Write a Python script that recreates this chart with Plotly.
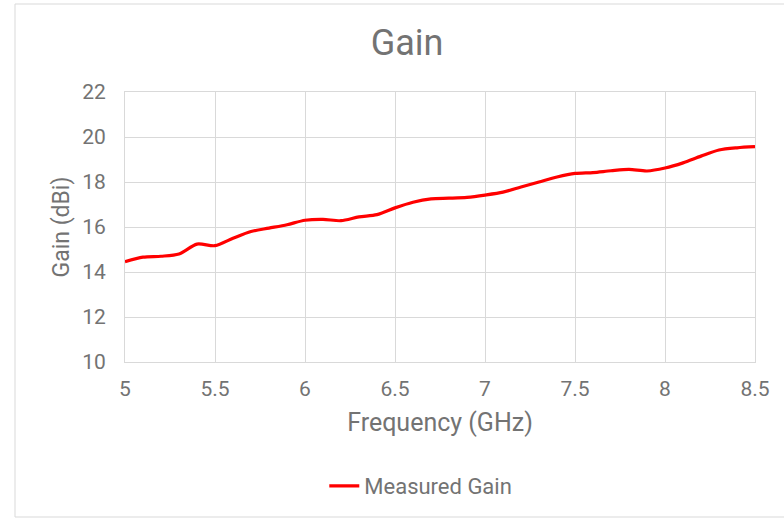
import plotly.graph_objects as go

freq = [5.0, 5.1, 5.2, 5.3, 5.4, 5.5, 5.6, 5.7, 5.8, 5.9,
        6.0, 6.1, 6.2, 6.3, 6.4, 6.5, 6.6, 6.7, 6.8, 6.9,
        7.0, 7.1, 7.2, 7.3, 7.4, 7.5, 7.6, 7.7, 7.8, 7.9,
        8.0, 8.1, 8.2, 8.3, 8.4, 8.5]
gain = [14.46, 14.66, 14.70, 14.80, 15.24, 15.17, 15.50, 15.80, 15.95, 16.10,
        16.30, 16.34, 16.28, 16.45, 16.55, 16.85, 17.10, 17.25, 17.28, 17.32,
        17.42, 17.55, 17.78, 18.00, 18.22, 18.38, 18.42, 18.50, 18.56, 18.49,
        18.62, 18.85, 19.15, 19.42, 19.52, 19.57]
x_ticks = [5, 5.5, 6, 6.5, 7, 7.5, 8, 8.5]
x_tick_labels = ["5", "5.5", "6", "6.5", "7", "7.5", "8", "8.5"]
y_ticks = [10, 12, 14, 16, 18, 20, 22]

W, H = 784, 518
L, R, T, B = 125, 29, 92, 156
TXT = "#737373"
GRID = "#d9d9d9"

fig = go.Figure()
fig.add_trace(go.Scatter(
    x=freq, y=gain, mode="lines", name="Measured Gain",
    line=dict(color="#ff0000", width=3.2, shape="spline", smoothing=0.8),
))

fig.update_layout(
    width=W, height=H,
    margin=dict(l=L, r=R, t=T, b=B),
    paper_bgcolor="white", plot_bgcolor="white",
    font=dict(family="Roboto, Arial, sans-serif", color=TXT),
    title=dict(text="Gain", x=407 / W, xanchor="center",
               y=1 - 42 / H, yanchor="middle",
               font=dict(size=36, color=TXT)),
    xaxis=dict(range=[5, 8.5], tickvals=x_ticks, ticktext=x_tick_labels,
               showgrid=True, gridcolor=GRID, gridwidth=1,
               showline=True, linecolor=GRID, linewidth=1, mirror=True,
               zeroline=False, ticks="", tickfont=dict(size=21, color=TXT),
               ticklabelstandoff=8,
               title=dict(text="Frequency (GHz)", font=dict(size=25, color=TXT),
                          standoff=13)),
    yaxis=dict(range=[10, 22], tickvals=y_ticks,
               showgrid=True, gridcolor=GRID, gridwidth=1,
               showline=True, linecolor=GRID, linewidth=1, mirror=True,
               zeroline=False, ticks="", tickfont=dict(size=21, color=TXT),
               ticklabelstandoff=14,
               title=dict(text="Gain (dBi)", font=dict(size=23, color=TXT),
                          standoff=6)),
    showlegend=True,
    legend=dict(orientation="h", x=248 / W, xanchor="left",
                y=1 - 486 / H, yref="container", yanchor="middle",
                font=dict(size=22, color=TXT), bgcolor="rgba(0,0,0,0)"),
)

# outer chart border (left/top/bottom visible)
fig.add_shape(type="rect", xref="paper", yref="paper",
              x0=(15 - L) / (W - L - R), x1=(800 - L) / (W - L - R),
              y0=-(517 - (H - B)) / (H - T - B), y1=1 + (T - 4) / (H - T - B),
              line=dict(color="#d9d9d9", width=1), fillcolor="rgba(0,0,0,0)",
              layer="below")

fig.write_html("out.html")
